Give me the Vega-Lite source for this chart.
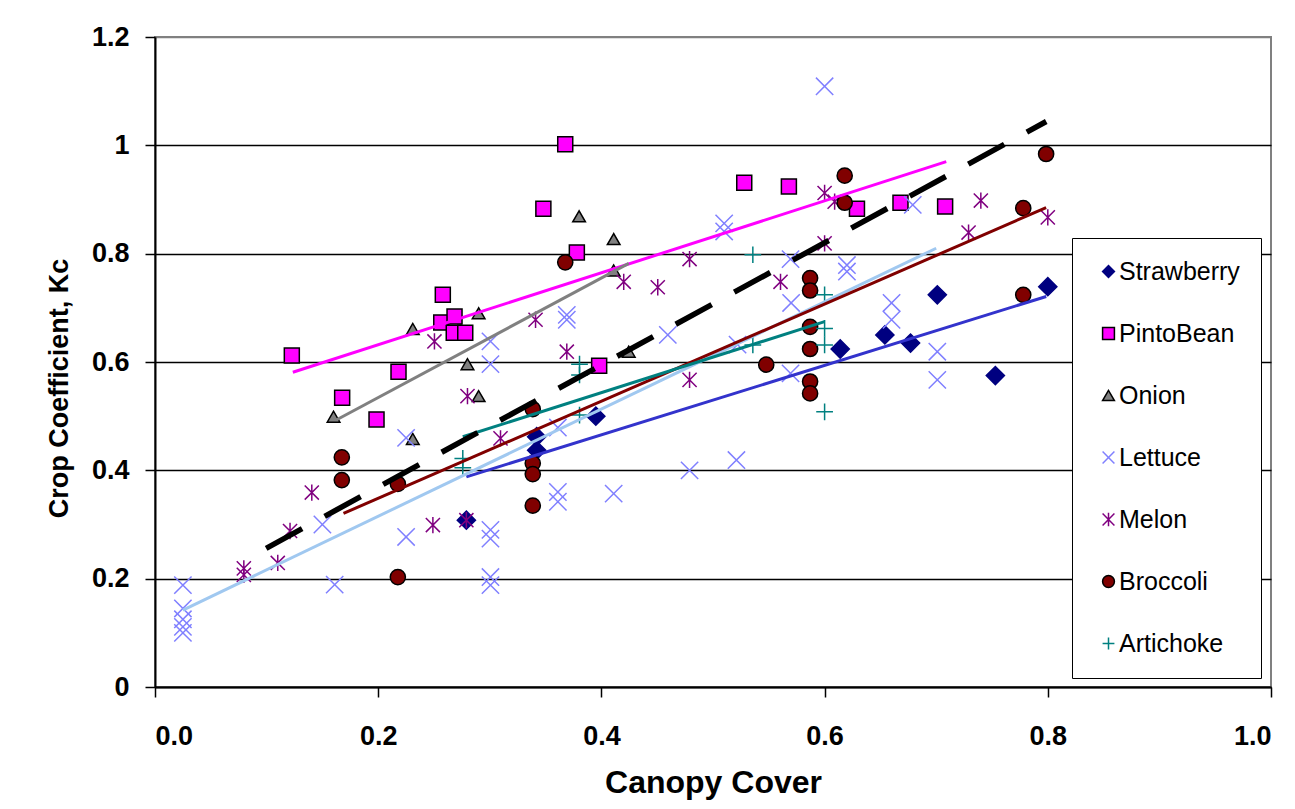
{
  "$schema": "https://vega.github.io/schema/vega-lite/v6.json",
  "width": 1116,
  "height": 650,
  "autosize": {"type": "none"},
  "padding": {"left": 155, "top": 37, "right": 24, "bottom": 122},
  "background": "white",
  "config": {
    "font": "Liberation Sans",
    "view": {"stroke": "#808080", "strokeWidth": 2},
    "axis": {
      "domainColor": "black",
      "domainWidth": 2,
      "tickColor": "black",
      "tickWidth": 1.5,
      "tickSize": 10,
      "labelFont": "Liberation Sans",
      "labelFontWeight": "bold",
      "labelFontSize": 27,
      "labelColor": "black",
      "titleFont": "Liberation Sans",
      "titleFontWeight": "bold",
      "titleColor": "black"
    },
    "legend": {
      "labelFont": "Liberation Sans",
      "labelFontSize": 25,
      "labelColor": "black",
      "symbolSize": 140,
      "symbolStrokeWidth": 1.5
    }
  },
  "datasets": {
    "pts": [
      {"crop": "Strawberry", "cover": 0.279, "kc": 0.308},
      {"crop": "Strawberry", "cover": 0.342, "kc": 0.462},
      {"crop": "Strawberry", "cover": 0.342, "kc": 0.437},
      {"crop": "Strawberry", "cover": 0.395, "kc": 0.500},
      {"crop": "Strawberry", "cover": 0.614, "kc": 0.624},
      {"crop": "Strawberry", "cover": 0.654, "kc": 0.650},
      {"crop": "Strawberry", "cover": 0.677, "kc": 0.635},
      {"crop": "Strawberry", "cover": 0.701, "kc": 0.724},
      {"crop": "Strawberry", "cover": 0.753, "kc": 0.575},
      {"crop": "Strawberry", "cover": 0.800, "kc": 0.739},
      {"crop": "PintoBean", "cover": 0.1226, "kc": 0.612},
      {"crop": "PintoBean", "cover": 0.1677, "kc": 0.534},
      {"crop": "PintoBean", "cover": 0.1985, "kc": 0.494},
      {"crop": "PintoBean", "cover": 0.2182, "kc": 0.582},
      {"crop": "PintoBean", "cover": 0.2579, "kc": 0.724},
      {"crop": "PintoBean", "cover": 0.2565, "kc": 0.673},
      {"crop": "PintoBean", "cover": 0.2684, "kc": 0.684},
      {"crop": "PintoBean", "cover": 0.2677, "kc": 0.654},
      {"crop": "PintoBean", "cover": 0.278, "kc": 0.654},
      {"crop": "PintoBean", "cover": 0.348, "kc": 0.883},
      {"crop": "PintoBean", "cover": 0.3676, "kc": 1.002},
      {"crop": "PintoBean", "cover": 0.378, "kc": 0.802},
      {"crop": "PintoBean", "cover": 0.398, "kc": 0.593},
      {"crop": "PintoBean", "cover": 0.528, "kc": 0.931},
      {"crop": "PintoBean", "cover": 0.568, "kc": 0.924},
      {"crop": "PintoBean", "cover": 0.629, "kc": 0.883},
      {"crop": "PintoBean", "cover": 0.668, "kc": 0.894},
      {"crop": "PintoBean", "cover": 0.708, "kc": 0.887},
      {"crop": "Onion", "cover": 0.160, "kc": 0.499},
      {"crop": "Onion", "cover": 0.231, "kc": 0.458},
      {"crop": "Onion", "cover": 0.231, "kc": 0.661},
      {"crop": "Onion", "cover": 0.280, "kc": 0.596},
      {"crop": "Onion", "cover": 0.290, "kc": 0.537},
      {"crop": "Onion", "cover": 0.290, "kc": 0.690},
      {"crop": "Onion", "cover": 0.380, "kc": 0.869},
      {"crop": "Onion", "cover": 0.411, "kc": 0.827},
      {"crop": "Onion", "cover": 0.411, "kc": 0.769},
      {"crop": "Onion", "cover": 0.4245, "kc": 0.619},
      {"crop": "Lettuce", "cover": 0.025, "kc": 0.188},
      {"crop": "Lettuce", "cover": 0.025, "kc": 0.145},
      {"crop": "Lettuce", "cover": 0.025, "kc": 0.125},
      {"crop": "Lettuce", "cover": 0.025, "kc": 0.111},
      {"crop": "Lettuce", "cover": 0.025, "kc": 0.100},
      {"crop": "Lettuce", "cover": 0.150, "kc": 0.300},
      {"crop": "Lettuce", "cover": 0.161, "kc": 0.189},
      {"crop": "Lettuce", "cover": 0.225, "kc": 0.277},
      {"crop": "Lettuce", "cover": 0.225, "kc": 0.460},
      {"crop": "Lettuce", "cover": 0.3006, "kc": 0.638},
      {"crop": "Lettuce", "cover": 0.3006, "kc": 0.596},
      {"crop": "Lettuce", "cover": 0.3006, "kc": 0.290},
      {"crop": "Lettuce", "cover": 0.3006, "kc": 0.274},
      {"crop": "Lettuce", "cover": 0.3006, "kc": 0.203},
      {"crop": "Lettuce", "cover": 0.3006, "kc": 0.188},
      {"crop": "Lettuce", "cover": 0.361, "kc": 0.479},
      {"crop": "Lettuce", "cover": 0.361, "kc": 0.360},
      {"crop": "Lettuce", "cover": 0.361, "kc": 0.342},
      {"crop": "Lettuce", "cover": 0.369, "kc": 0.687},
      {"crop": "Lettuce", "cover": 0.369, "kc": 0.678},
      {"crop": "Lettuce", "cover": 0.411, "kc": 0.357},
      {"crop": "Lettuce", "cover": 0.4595, "kc": 0.650},
      {"crop": "Lettuce", "cover": 0.479, "kc": 0.400},
      {"crop": "Lettuce", "cover": 0.510, "kc": 0.856},
      {"crop": "Lettuce", "cover": 0.510, "kc": 0.841},
      {"crop": "Lettuce", "cover": 0.522, "kc": 0.632},
      {"crop": "Lettuce", "cover": 0.521, "kc": 0.419},
      {"crop": "Lettuce", "cover": 0.5695, "kc": 0.790},
      {"crop": "Lettuce", "cover": 0.570, "kc": 0.709},
      {"crop": "Lettuce", "cover": 0.5695, "kc": 0.579},
      {"crop": "Lettuce", "cover": 0.600, "kc": 1.109},
      {"crop": "Lettuce", "cover": 0.620, "kc": 0.779},
      {"crop": "Lettuce", "cover": 0.620, "kc": 0.767},
      {"crop": "Lettuce", "cover": 0.660, "kc": 0.709},
      {"crop": "Lettuce", "cover": 0.660, "kc": 0.678},
      {"crop": "Lettuce", "cover": 0.679, "kc": 0.890},
      {"crop": "Lettuce", "cover": 0.701, "kc": 0.619},
      {"crop": "Lettuce", "cover": 0.701, "kc": 0.567},
      {"crop": "Melon", "cover": 0.0796, "kc": 0.219},
      {"crop": "Melon", "cover": 0.0796, "kc": 0.207},
      {"crop": "Melon", "cover": 0.110, "kc": 0.229},
      {"crop": "Melon", "cover": 0.121, "kc": 0.288},
      {"crop": "Melon", "cover": 0.1405, "kc": 0.359},
      {"crop": "Melon", "cover": 0.249, "kc": 0.299},
      {"crop": "Melon", "cover": 0.2504, "kc": 0.638},
      {"crop": "Melon", "cover": 0.279, "kc": 0.308},
      {"crop": "Melon", "cover": 0.280, "kc": 0.537},
      {"crop": "Melon", "cover": 0.3096, "kc": 0.459},
      {"crop": "Melon", "cover": 0.341, "kc": 0.678},
      {"crop": "Melon", "cover": 0.369, "kc": 0.619},
      {"crop": "Melon", "cover": 0.420, "kc": 0.748},
      {"crop": "Melon", "cover": 0.4505, "kc": 0.738},
      {"crop": "Melon", "cover": 0.479, "kc": 0.790},
      {"crop": "Melon", "cover": 0.479, "kc": 0.567},
      {"crop": "Melon", "cover": 0.5605, "kc": 0.748},
      {"crop": "Melon", "cover": 0.600, "kc": 0.912},
      {"crop": "Melon", "cover": 0.609, "kc": 0.896},
      {"crop": "Melon", "cover": 0.600, "kc": 0.819},
      {"crop": "Melon", "cover": 0.729, "kc": 0.839},
      {"crop": "Melon", "cover": 0.740, "kc": 0.898},
      {"crop": "Melon", "cover": 0.800, "kc": 0.867},
      {"crop": "Broccoli", "cover": 0.1674, "kc": 0.424},
      {"crop": "Broccoli", "cover": 0.1674, "kc": 0.382},
      {"crop": "Broccoli", "cover": 0.2176, "kc": 0.375},
      {"crop": "Broccoli", "cover": 0.2176, "kc": 0.203},
      {"crop": "Broccoli", "cover": 0.3385, "kc": 0.513},
      {"crop": "Broccoli", "cover": 0.3385, "kc": 0.413},
      {"crop": "Broccoli", "cover": 0.3385, "kc": 0.393},
      {"crop": "Broccoli", "cover": 0.3385, "kc": 0.335},
      {"crop": "Broccoli", "cover": 0.3676, "kc": 0.784},
      {"crop": "Broccoli", "cover": 0.5477, "kc": 0.595},
      {"crop": "Broccoli", "cover": 0.587, "kc": 0.755},
      {"crop": "Broccoli", "cover": 0.587, "kc": 0.732},
      {"crop": "Broccoli", "cover": 0.587, "kc": 0.665},
      {"crop": "Broccoli", "cover": 0.587, "kc": 0.624},
      {"crop": "Broccoli", "cover": 0.587, "kc": 0.564},
      {"crop": "Broccoli", "cover": 0.587, "kc": 0.542},
      {"crop": "Broccoli", "cover": 0.618, "kc": 0.944},
      {"crop": "Broccoli", "cover": 0.618, "kc": 0.894},
      {"crop": "Broccoli", "cover": 0.778, "kc": 0.884},
      {"crop": "Broccoli", "cover": 0.778, "kc": 0.724},
      {"crop": "Broccoli", "cover": 0.7985, "kc": 0.984},
      {"crop": "Artichoke", "cover": 0.2758, "kc": 0.422},
      {"crop": "Artichoke", "cover": 0.2758, "kc": 0.405},
      {"crop": "Artichoke", "cover": 0.3804, "kc": 0.596},
      {"crop": "Artichoke", "cover": 0.3804, "kc": 0.576},
      {"crop": "Artichoke", "cover": 0.3804, "kc": 0.502},
      {"crop": "Artichoke", "cover": 0.5357, "kc": 0.798},
      {"crop": "Artichoke", "cover": 0.5357, "kc": 0.6315},
      {"crop": "Artichoke", "cover": 0.600, "kc": 0.724},
      {"crop": "Artichoke", "cover": 0.600, "kc": 0.662},
      {"crop": "Artichoke", "cover": 0.600, "kc": 0.6315},
      {"crop": "Artichoke", "cover": 0.600, "kc": 0.508}
    ],
    "fits": [
      {"fit": "Strawberry", "cover": 0.279, "kc": 0.388},
      {"fit": "Strawberry", "cover": 0.7986, "kc": 0.721},
      {"fit": "PintoBean", "cover": 0.1235, "kc": 0.581},
      {"fit": "PintoBean", "cover": 0.709, "kc": 0.970},
      {"fit": "Onion", "cover": 0.1624, "kc": 0.493},
      {"fit": "Onion", "cover": 0.4245, "kc": 0.782},
      {"fit": "Lettuce", "cover": 0.025, "kc": 0.142},
      {"fit": "Lettuce", "cover": 0.700, "kc": 0.810},
      {"fit": "Broccoli", "cover": 0.1689, "kc": 0.3205},
      {"fit": "Broccoli", "cover": 0.7985, "kc": 0.885},
      {"fit": "Artichoke", "cover": 0.2758, "kc": 0.462},
      {"fit": "Artichoke", "cover": 0.600, "kc": 0.6745},
      {"fit": "All", "cover": 0.0996, "kc": 0.256},
      {"fit": "All", "cover": 0.7986, "kc": 1.044}
    ]
  },
  "layer": [
    {
      "data": {"name": "pts"},
      "mark": {"type": "point", "opacity": 1, "strokeWidth": 1.5},
      "encoding": {
        "x": {
          "field": "cover", "type": "quantitative",
          "scale": {"domain": [0, 1], "nice": false, "zero": false},
          "axis": {
            "title": "Canopy Cover",
            "titleFontSize": 32,
            "values": [0, 0.2, 0.4, 0.6, 0.8, 1.0],
            "format": ".1f",
            "grid": false,
            "labelPadding": 26,
            "titleBaseline": "alphabetic",
            "titleY": 105
          }
        },
        "y": {
          "field": "kc", "type": "quantitative",
          "scale": {"domain": [0, 1.2], "nice": false, "zero": false},
          "axis": {
            "title": "Crop Coefficient, Kc",
            "titleFontSize": 27,
            "values": [0, 0.2, 0.4, 0.6, 0.8, 1.0, 1.2],
            "format": "~g",
            "grid": true,
            "gridColor": {"condition": {"test": "datum.value >= 1.2", "value": "#808080"}, "value": "black"},
            "gridWidth": 1.5,
            "labelPadding": 16,
            "titleAngle": 270,
            "titleAlign": "center",
            "titleBaseline": "alphabetic",
            "titleX": -88,
            "titleY": 351
          }
        },
        "shape": {
          "field": "crop", "type": "nominal",
          "scale": {
            "domain": ["Strawberry", "PintoBean", "Onion", "Lettuce", "Melon", "Broccoli", "Artichoke"],
            "range": ["diamond", "square", "triangle-up", "M-1,-1L1,1M-1,1L1,-1", "M-1,-1L1,1M-1,1L1,-1M0,-1.15L0,1.15", "circle", "M-1,0L1,0M0,-1L0,1"]
          },
          "legend": {
            "title": null,
            "orient": "none",
            "legendX": 917,
            "legendY": 201,
            "padding": 21,
            "fillColor": "white",
            "strokeColor": "black",
            "rowPadding": 36,
            "labelOffset": -2,
            "symbolOffset": 3
          }
        },
        "fill": {
          "field": "crop", "type": "nominal",
          "scale": {
            "domain": ["Strawberry", "PintoBean", "Onion", "Lettuce", "Melon", "Broccoli", "Artichoke"],
            "range": ["#000080", "#FF00FF", "#808080", "transparent", "transparent", "#800000", "transparent"]
          },
          "legend": {
            "title": null,
            "orient": "none",
            "legendX": 917,
            "legendY": 201,
            "padding": 21,
            "fillColor": "white",
            "strokeColor": "black",
            "rowPadding": 36,
            "labelOffset": -2,
            "symbolOffset": 3
          }
        },
        "stroke": {
          "field": "crop", "type": "nominal",
          "scale": {
            "domain": ["Strawberry", "PintoBean", "Onion", "Lettuce", "Melon", "Broccoli", "Artichoke"],
            "range": ["#000080", "black", "black", "#8080FF", "#800080", "black", "#008080"]
          },
          "legend": {
            "title": null,
            "orient": "none",
            "legendX": 917,
            "legendY": 201,
            "padding": 21,
            "fillColor": "white",
            "strokeColor": "black",
            "rowPadding": 36,
            "labelOffset": -2,
            "symbolOffset": 3
          }
        },
        "size": {
          "field": "crop", "type": "nominal",
          "scale": {
            "type": "ordinal",
            "domain": ["Artichoke", "Broccoli", "Melon", "Lettuce", "Onion", "PintoBean", "Strawberry"],
            "range": [280, 230, 200, 300, 160, 225, 330]
          },
          "legend": null
        }
      }
    },
    {
      "data": {"name": "fits"},
      "transform": [{"filter": "datum.fit !== 'All'"}],
      "mark": {"type": "line", "strokeWidth": 3},
      "encoding": {
        "x": {"field": "cover", "type": "quantitative"},
        "y": {"field": "kc", "type": "quantitative"},
        "color": {
          "field": "fit", "type": "nominal",
          "scale": {
            "domain": ["Strawberry", "PintoBean", "Onion", "Lettuce", "Broccoli", "Artichoke"],
            "range": ["#3333CC", "#FF00FF", "#808080", "#A0C8F0", "#800000", "#008080"]
          },
          "legend": null
        }
      }
    },
    {
      "data": {"name": "fits"},
      "transform": [{"filter": "datum.fit === 'All'"}],
      "mark": {"type": "line", "strokeWidth": 5.5, "color": "black", "strokeDash": [41, 25.7]},
      "encoding": {
        "x": {"field": "cover", "type": "quantitative"},
        "y": {"field": "kc", "type": "quantitative"}
      }
    }
  ]
}
